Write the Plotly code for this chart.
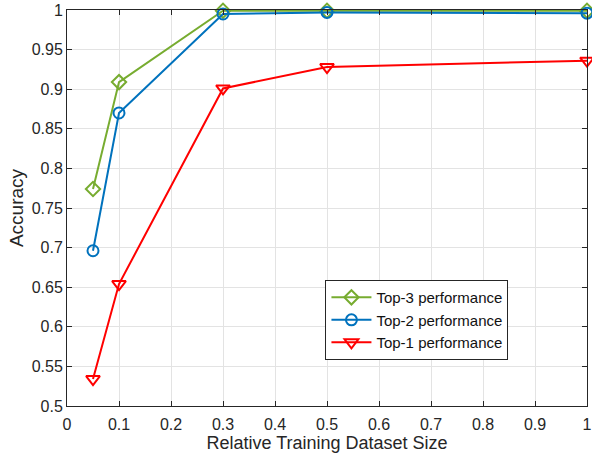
import plotly.graph_objects as go

x = [0.05, 0.1, 0.3, 0.5, 1.0]
top3 = [0.774, 0.909, 0.999, 0.999, 0.999]
top2 = [0.696, 0.870, 0.995, 0.997, 0.996]
top1 = [0.534, 0.654, 0.901, 0.928, 0.936]

x_ticks = [0, 0.1, 0.2, 0.3, 0.4, 0.5, 0.6, 0.7, 0.8, 0.9, 1]
x_labels = ["0", "0.1", "0.2", "0.3", "0.4", "0.5", "0.6", "0.7", "0.8", "0.9", "1"]
y_ticks = [0.5, 0.55, 0.6, 0.65, 0.7, 0.75, 0.8, 0.85, 0.9, 0.95, 1]
y_labels = ["0.5", "0.55", "0.6", "0.65", "0.7", "0.75", "0.8", "0.85", "0.9", "0.95", "1"]

fig = go.Figure()
series = [
    ("Top-3 performance", top3, "#77AC30", "diamond-open", 11),
    ("Top-2 performance", top2, "#0072BD", "circle-open", 11),
    ("Top-1 performance", top1, "#FF0000", "triangle-down-open", 12),
]
for name, y, c, sym, sz in series:
    fig.add_trace(go.Scatter(
        x=x, y=y, name=name, mode="lines+markers",
        line=dict(color=c, width=2),
        marker=dict(symbol=sym, size=sz, color=c, line=dict(width=2, color=c)),
        cliponaxis=False,
    ))

axis_common = dict(
    showgrid=True, gridcolor="#e3e3e3", gridwidth=1,
    showline=True, linecolor="#262626", linewidth=1, mirror="ticks",
    ticks="inside", ticklen=5, tickcolor="#262626",
    tickfont=dict(family="Liberation Sans, Arial", size=16, color="#262626"),
    zeroline=False, automargin=False,
)
fig.update_layout(
    width=592, height=457,
    margin=dict(l=67, r=5, t=10, b=51),
    plot_bgcolor="white", paper_bgcolor="white",
    font=dict(family="Liberation Sans, Arial", size=16, color="#262626"),
    xaxis=dict(range=[0, 1], tickvals=x_ticks, ticktext=x_labels, ticklabelstandoff=4,
               title=dict(text="Relative Training Dataset Size", font=dict(size=18), standoff=4),
               **axis_common),
    yaxis=dict(range=[0.5, 1], tickvals=y_ticks, ticktext=y_labels,
               title=dict(text="Accuracy", font=dict(size=19), standoff=3),
               **axis_common),
    legend=dict(x=0.497, y=0.318, xanchor="left", yanchor="top",
                bgcolor="white", bordercolor="#262626", borderwidth=1,
                font=dict(size=15, color="#111111"), itemwidth=40,
                tracegroupgap=0),
    showlegend=True,
)
fig.write_html("out.html", config={"displayModeBar": False},
               post_script="document.body.style.margin='0';document.body.style.overflow='hidden';")
